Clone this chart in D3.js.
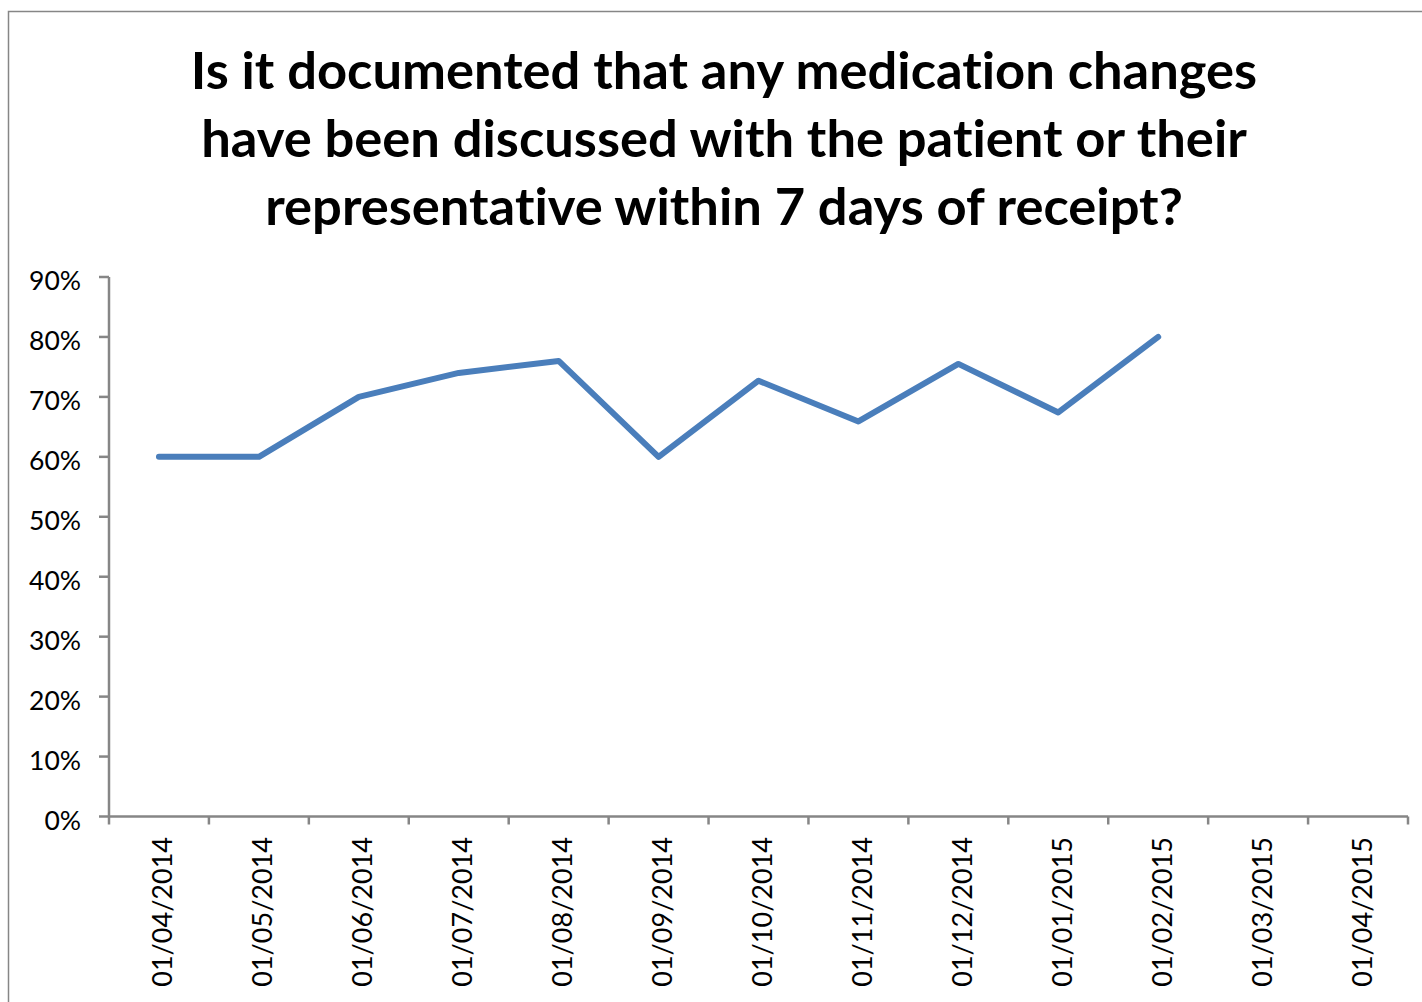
<!DOCTYPE html>
<html>
<head>
<meta charset="utf-8">
<script src="https://cdn.jsdelivr.net/npm/d3@7"></script>
<style>
	body { margin: 0; background: #fff; }
	text { font-family: Lato, "Open Sans", sans-serif; fill: #000; font-variant-ligatures: none; }
</style>
</head>
<body>
<svg id="chart" width="1422" height="1002"></svg>
<script>
let title_lines = [
	'Is it documented that any medication changes',
	'have been discussed with the patient or their',
	'representative within 7 days of receipt?'
];

let categories = ['01/04/2014', '01/05/2014', '01/06/2014', '01/07/2014', '01/08/2014',
	'01/09/2014', '01/10/2014', '01/11/2014', '01/12/2014', '01/01/2015',
	'01/02/2015', '01/03/2015', '01/04/2015'];

// percent per month, last two months have no data yet
let values = [60, 60, 70, 74, 76, 60, 72.7, 65.9, 75.5, 67.4, 80];

let y_ticks = [0, 10, 20, 30, 40, 50, 60, 70, 80, 90];

let svg = d3.select('#chart'),
	margin = {left: 109, right: 1408, top: 277, bottom: 816.5},
	line_color = '#4a7ebb',
	axis_color = '#868686';

// outer chart border
svg.append('rect')
	.attr('x', 8.5)
	.attr('y', 11.5)
	.attr('width', 1430)
	.attr('height', 1010)
	.attr('fill', 'none')
	.attr('stroke', axis_color)
	.attr('stroke-width', 1.5);

svg.selectAll('.title_line')
	.data(title_lines)
	.enter()
	.append('text')
	.attr('class', 'title_line')
	.attr('x', 724)
	.attr('y', (d, i) => 89 + i * 68)
	.attr('text-anchor', 'middle')
	.style('font-size', '52.5px')
	.style('font-weight', 'bold')
	.text(d => d);

let xScale = d3.scaleBand()
	.domain(categories)
	.range([margin.left, margin.right]);

let yScale = d3.scaleLinear()
	.domain([0, 90])
	.range([margin.bottom, margin.top]);

// y axis
let y_g = svg.append('g').attr('class', 'y_axis');

y_g.append('line')
	.attr('x1', margin.left).attr('x2', margin.left)
	.attr('y1', yScale(90)).attr('y2', yScale(0))
	.attr('stroke', axis_color).attr('stroke-width', 2.5);

y_g.selectAll('.y_tick')
	.data(y_ticks).enter()
	.append('line')
	.attr('class', 'y_tick')
	.attr('x1', margin.left - 10).attr('x2', margin.left)
	.attr('y1', d => yScale(d)).attr('y2', d => yScale(d))
	.attr('stroke', axis_color).attr('stroke-width', 2.5);

y_g.selectAll('.y_label')
	.data(y_ticks).enter()
	.append('text')
	.attr('class', 'y_label')
	.attr('x', 81)
	.attr('y', d => yScale(d))
	.attr('dy', '0.5em')
	.attr('text-anchor', 'end')
	.style('font-size', '26.5px')
	.text(d => `${d}%`);

// x axis
let x_g = svg.append('g').attr('class', 'x_axis');

x_g.append('line')
	.attr('x1', margin.left).attr('x2', margin.right)
	.attr('y1', margin.bottom).attr('y2', margin.bottom)
	.attr('stroke', axis_color).attr('stroke-width', 2.5);

let boundaries = categories.map(d => xScale(d)).concat([margin.right]);

x_g.selectAll('.x_tick')
	.data(boundaries).enter()
	.append('line')
	.attr('class', 'x_tick')
	.attr('x1', d => d).attr('x2', d => d)
	.attr('y1', margin.bottom).attr('y2', margin.bottom + 8)
	.attr('stroke', axis_color).attr('stroke-width', 2.5);

x_g.selectAll('.x_label')
	.data(categories).enter()
	.append('text')
	.attr('class', 'x_label')
	.attr('transform', d => `translate(${xScale(d) + xScale.bandwidth() / 2}, 837) rotate(-90)`)
	.attr('dy', '0.5em')
	.attr('text-anchor', 'end')
	.style('font-size', '27px')
	.text(d => d);

// data line
let line = d3.line()
	.x((d, i) => xScale(categories[i]) + xScale.bandwidth() / 2)
	.y(d => yScale(d));

svg.append('path')
	.datum(values)
	.attr('d', line)
	.attr('fill', 'none')
	.attr('stroke', line_color)
	.attr('stroke-width', 6)
	.attr('stroke-linejoin', 'round')
	.attr('stroke-linecap', 'round');
</script>
</body>
</html>
